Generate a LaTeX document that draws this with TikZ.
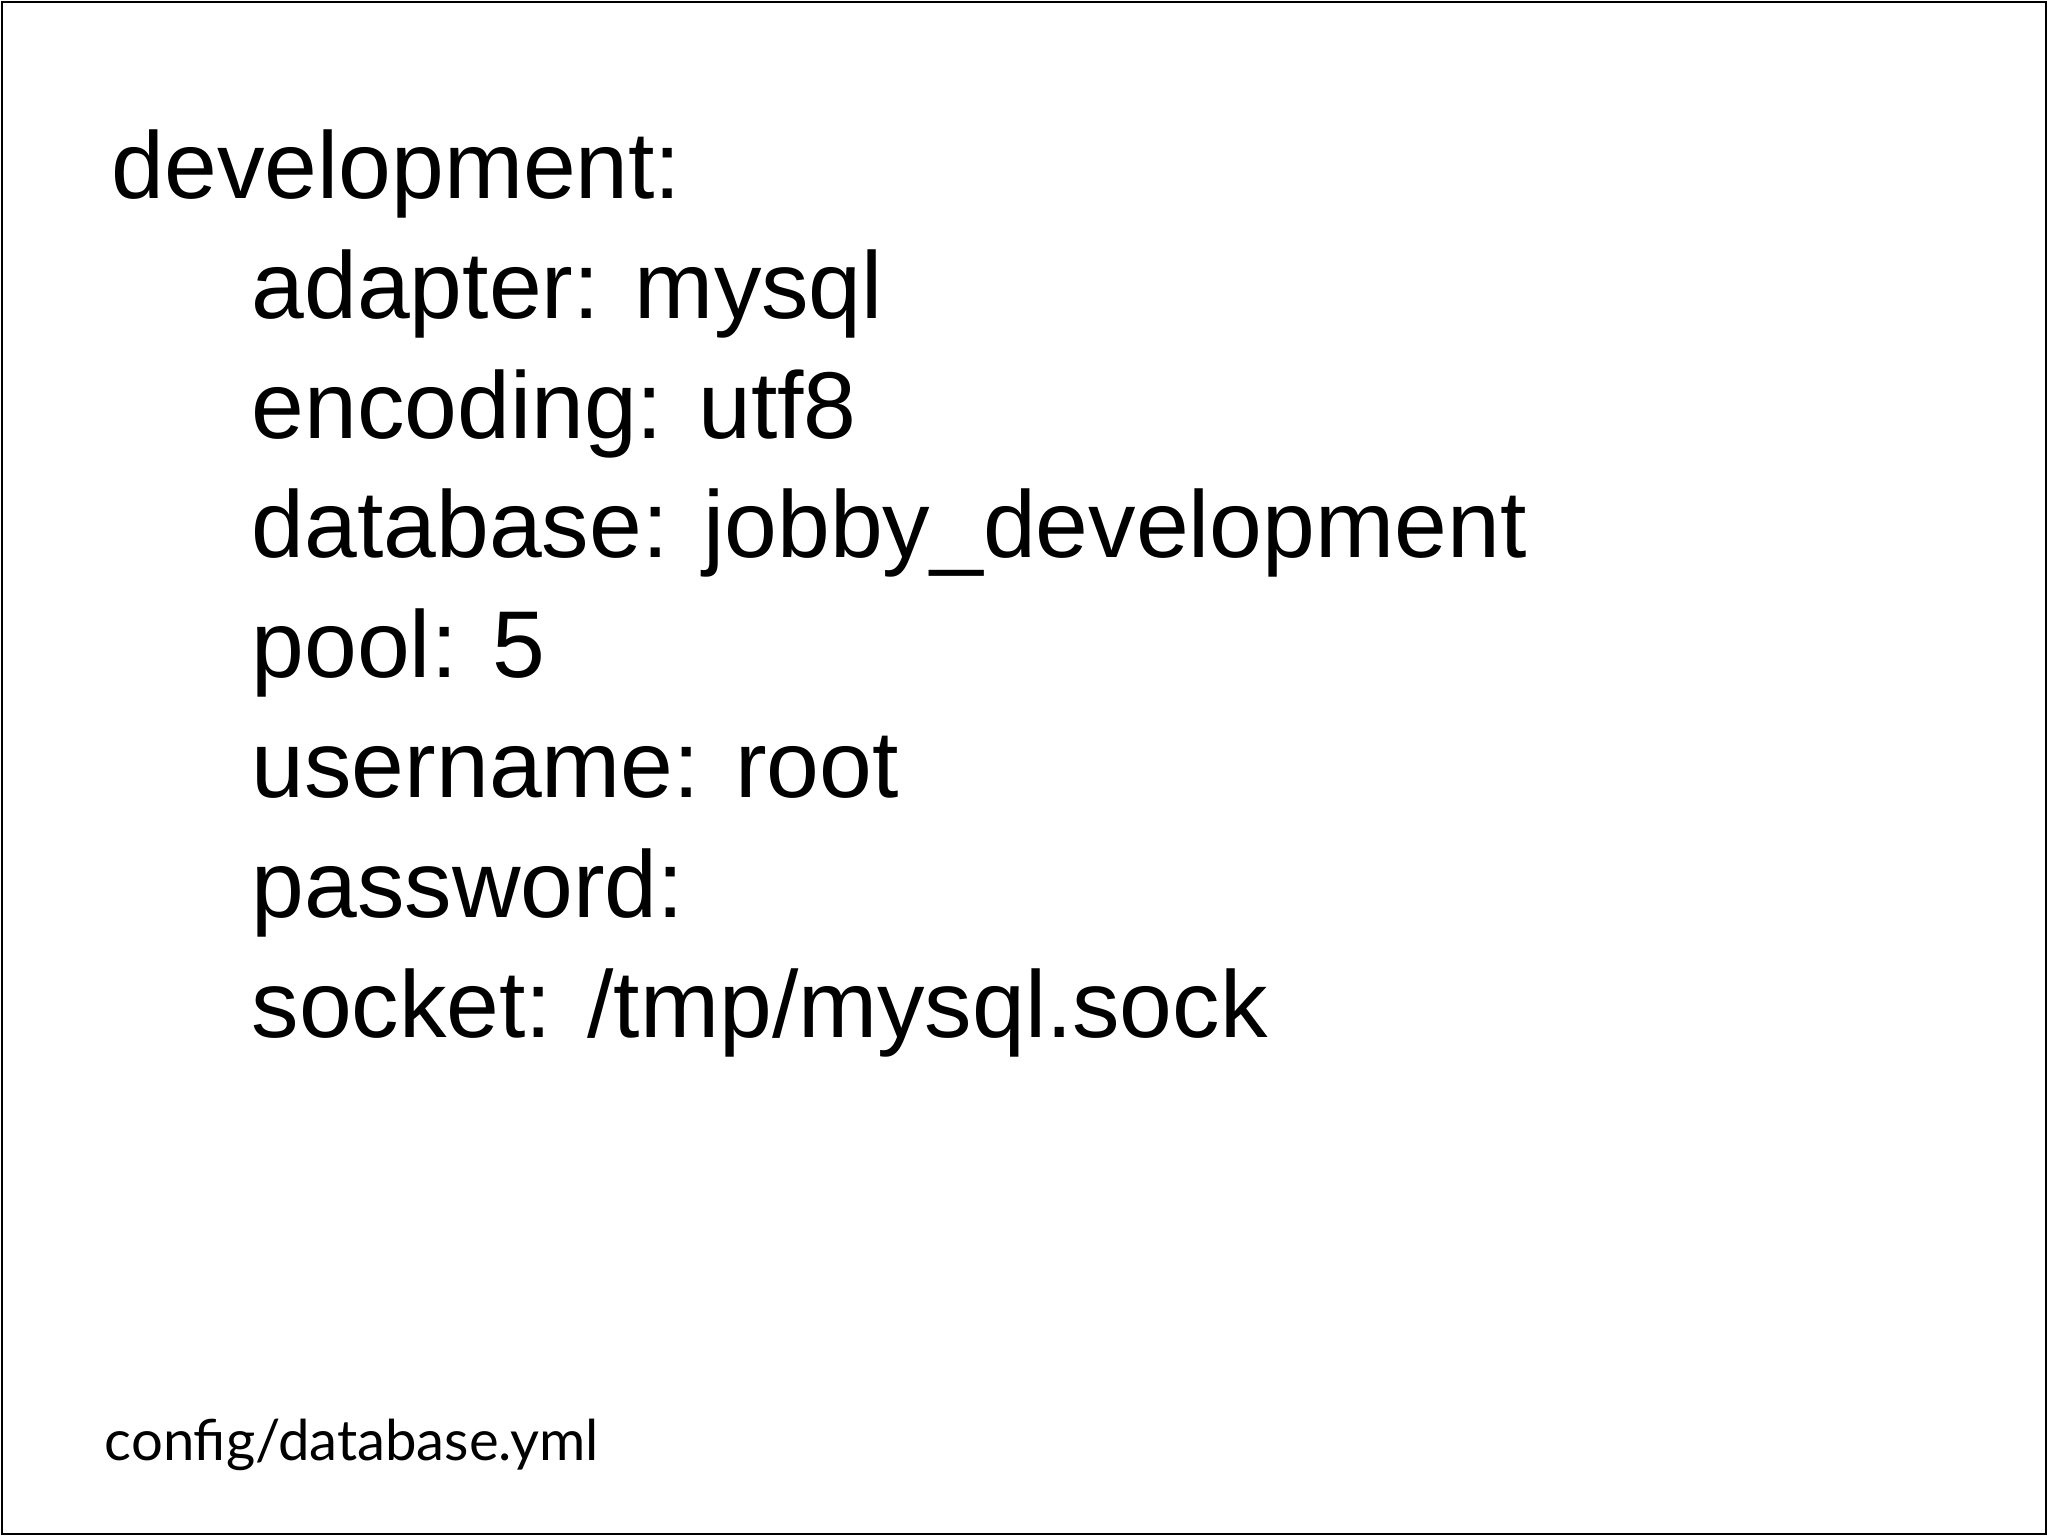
\documentclass[tikz,border=0pt]{standalone}
\usepackage{fontspec}
\setmainfont{Liberation Sans}
\newfontfamily\footfont{Lato}
\begin{document}
\begin{tikzpicture}[x=1cm,y=1cm,
  ln/.style={anchor=base west,inner sep=0pt,font=\fontsize{27}{27}\selectfont}]
\useasboundingbox (0,0) rectangle (20.48,-15.36);
\draw[line width=0.6pt] (0.02,-0.02) rectangle (20.46,-15.34);
\node[ln] (l0) at (1.11,-1.985) {development:};
\foreach \t [count=\i] in {adapter: mysql,encoding: utf8,database: jobby\_development,pool: 5,username: root,password:,socket: /tmp/mysql.sock}
  \node[ln] (l\i) at (2.51,{-1.985-1.198*\i}) {\t};
\node[anchor=base west,inner sep=0pt,font=\footfont\fontsize{16}{16}\selectfont] (foot) at (1.04,-14.6) {config/database.yml};
\end{tikzpicture}
\end{document}
